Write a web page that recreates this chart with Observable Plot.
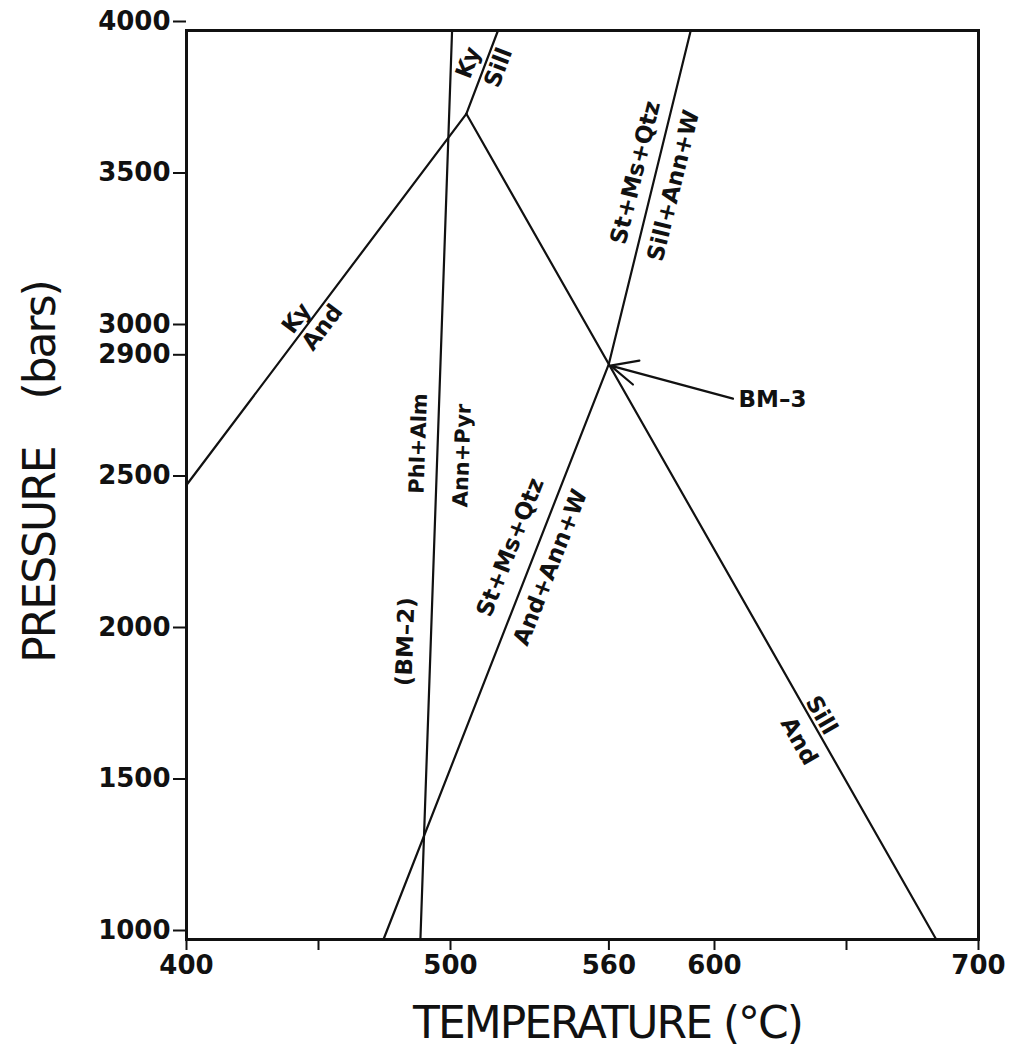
<!DOCTYPE html>
<html><head><meta charset="utf-8">
<script src="https://cdn.jsdelivr.net/npm/d3@7"></script>
<script src="https://cdn.jsdelivr.net/npm/@observablehq/plot@0.6"></script>
<style>
body{margin:0;background:#fff}
svg{display:block}
</style>
</head><body><div id="chart"></div>
<script>
// ---- data ----
const xTicks = [400, 450, 500, 560, 600, 650, 700];
const xLabeled = [400, 500, 560, 600, 700];
const yTicks = [1000, 1500, 2000, 2500, 2900, 3000, 3500, 4000];

const kyAnd   = [{T: 400, P: 2500}, {T: 506, P: 3725}];
const kySill  = [{T: 506, P: 3725}, {T: 518, P: 4000}];
const andSill = [{T: 506, P: 3725}, {T: 684, P: 1000}];
const phlAlm  = [{T: 488.6, P: 1000}, {T: 500.6, P: 4000}];
const stMsQtz = [{T: 474.6, P: 1000}, {T: 560, P: 2900}, {T: 591, P: 4000}];
const stMsLow = stMsQtz.slice(0, 2);
const stMsUp  = stMsQtz.slice(1, 3);

const bm3Arrow = [{T1: 607, P1: 2785, T2: 560.6, P2: 2894}];

const labels = [
  {text: "Ky",        T: 441.7, P: 3050, on: kyAnd},
  {text: "And",       T: 451.5, P: 3020, on: kyAnd},
  {text: "Ky",        T: 506.8, P: 3894, on: kySill},
  {text: "Sill",      T: 518.2, P: 3878, on: kySill},
  {text: "St+Ms+Qtz", T: 522.7, P: 2294, on: stMsLow},
  {text: "And+Ann+W", T: 537.9, P: 2228, on: stMsLow},
  {text: "St+Ms+Qtz", T: 570.1, P: 3531, on: stMsUp},
  {text: "Sill+Ann+W",T: 584.5, P: 3488, on: stMsUp},
  {text: "Sill",      T: 640.5, P: 1740, on: andSill},
  {text: "And",       T: 632.0, P: 1655, on: andSill},
  {text: "(BM\u20132)", T: 483.0, P: 1983, on: phlAlm}
];
const smallLabels = [
  {text: "Phl+Alm",   T: 487.9, P: 2637, on: phlAlm},
  {text: "Ann+Pyr",   T: 504.5, P: 2597, on: phlAlm}
];
const bm3Label = [{text: "BM\u20133", T: 609.1, P: 2782}];
const yTitle = "PRESSURE\u00a0\u00a0\u00a0\u00a0(bars)";
const xTitle = "TEMPERATURE (\u00b0C)";

// ---- layout ----
const W = 1011, H = 1055, mL = 186, mR = 33, mT = 30, mB = 116;
const sx = d3.scaleLinear([400, 700], [mL, W - mR]);
const sy = d3.scaleLinear([1000, 4000], [H - mB, mT]);
function ang(line) {
  const a = line[0], b = line[line.length - 1];
  return Math.atan2(sy(b.P) - sy(a.P), sx(b.T) - sx(a.T)) * 180 / Math.PI;
}

const lineStyle = {x: "T", y: "P", stroke: "#111", strokeWidth: 2.2};
const font = "DejaVu Sans";

const chart = Plot.plot({
  width: W, height: H,
  marginLeft: mL, marginRight: mR, marginTop: mT, marginBottom: mB,
  style: {fontFamily: font, color: "#111", background: "#fff"},
  x: {domain: [400, 700]},
  y: {domain: [1000, 4000]},
  marks: [
    Plot.axisX({ticks: xTicks, tickFormat: d => xLabeled.includes(d) ? String(d) : "",
      tickSize: 11, tickPadding: 5, fontSize: 26, fontWeight: "bold", strokeWidth: 2, label: null}),
    Plot.axisY({ticks: yTicks, tickSize: 13, tickPadding: 3, fontSize: 26, fontWeight: "bold",
      strokeWidth: 2, dy: -9, label: null, tickFormat: d => String(d)}),
    Plot.frame({stroke: "#111", strokeWidth: 3}),
    Plot.line(kyAnd, lineStyle),
    Plot.line(kySill, lineStyle),
    Plot.line(andSill, lineStyle),
    Plot.line(phlAlm, lineStyle),
    Plot.line(stMsQtz, lineStyle),
    Plot.arrow(bm3Arrow, {x1: "T1", y1: "P1", x2: "T2", y2: "P2", stroke: "#111",
      strokeWidth: 2.2, headLength: 20, headAngle: 50}),
    Plot.text(labels, {x: "T", y: "P", text: "text", rotate: d => ang(d.on),
      fontSize: 23, fontWeight: "bold", fill: "#111"}),
    Plot.text(smallLabels, {x: "T", y: "P", text: "text", rotate: d => ang(d.on),
      fontSize: 21, fontWeight: "bold", fill: "#111"}),
    Plot.text(bm3Label, {x: "T", y: "P", text: "text", textAnchor: "start",
      fontSize: 23, fontWeight: "bold", fill: "#111"}),
    Plot.text([yTitle], {frameAnchor: "left", textAnchor: "middle",
      lineAnchor: "middle", dx: -146, dy: -13, rotate: -90, fontSize: 44, fill: "#111"}),
    Plot.text([xTitle], {frameAnchor: "bottom", textAnchor: "middle",
      lineAnchor: "middle", dx: 25, dy: 84, fontSize: 44, fill: "#111"})
  ]
});
d3.select(chart).selectAll("text")
  .filter(function() { return this.textContent === yTitle || this.textContent === xTitle; })
  .attr("letter-spacing", "-2")
  .style("letter-spacing", "-2px");
document.getElementById("chart").appendChild(chart);
</script>
</body></html>
